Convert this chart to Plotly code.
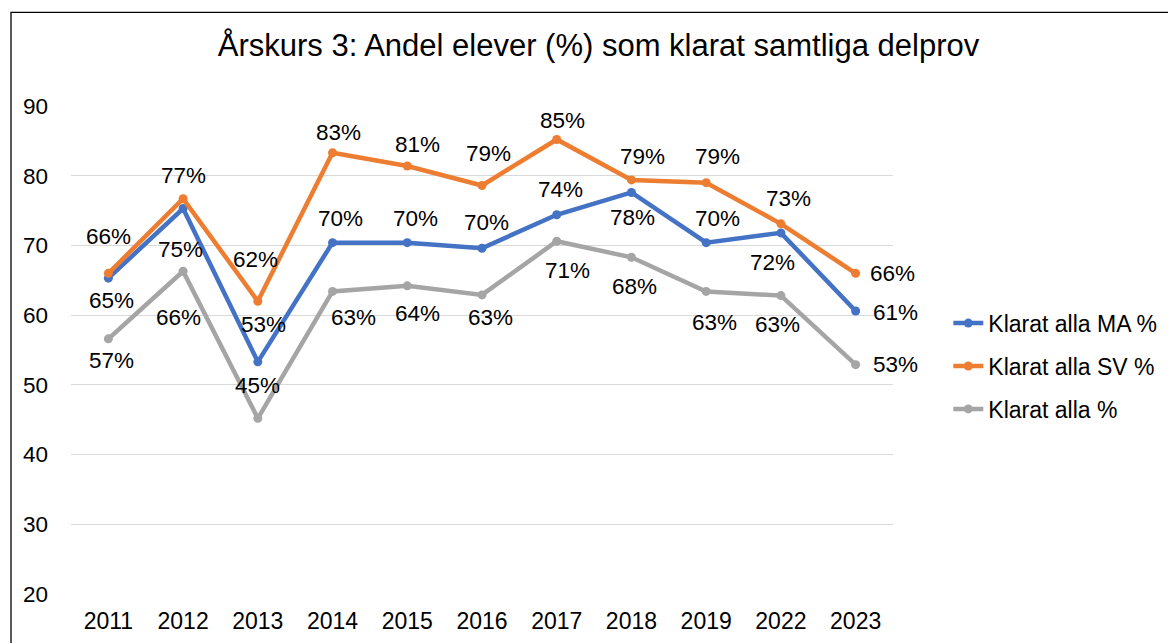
import plotly.graph_objects as go

YEARS = ["2011", "2012", "2013", "2014", "2015", "2016", "2017", "2018", "2019", "2022", "2023"]
MA = [65.3, 75.3, 53.3, 70.4, 70.4, 69.6, 74.4, 77.6, 70.4, 71.8, 60.6]
SV = [66.0, 76.7, 62.0, 83.3, 81.4, 78.6, 85.2, 79.4, 79.0, 73.1, 66.0]
ALLA = [56.6, 66.3, 45.2, 63.4, 64.2, 62.9, 70.6, 68.3, 63.4, 62.8, 52.9]

TITLE = "Årskurs 3: Andel elever (%) som klarat samtliga delprov"
NAMES = ["Klarat alla MA %", "Klarat alla SV %", "Klarat alla %"]
COLORS = ["#4472C4", "#ED7D31", "#A5A5A5"]

# label offsets (px) per point, picked by eye to sit like the Excel labels
MA_OFF = [(3, -22), (-3, -41), (6, 37), (8, 24), (8, 24), (4, 26), (4, 25),
          (1, -25), (11, 24), (-8, -30), (40, -2)]
SV_OFF = [(0, 37), (0, 23), (-2, 42), (6, 20), (10, 21), (6, 32), (6, 19),
          (11, 23), (11, 26), (8, 25), (37, 0)]
ALLA_OFF = [(3, -22), (-5, -46), (0, 33), (21, -26), (10, -28), (8, -23),
            (11, -29), (3, -29), (8, -31), (-3, -29), (40, 0)]

FONT = "Arial, 'Liberation Sans', sans-serif"

W, H = 1176, 643
# page body has an 8px margin, so work in screen px and shift back
OFF = 8
L = 70.7 - OFF
T = 105.7 - OFF
R = W - (892.7 - OFF)
B = H - (594 - OFF)
pw, ph = W - L - R, H - T - B


def px_x(sx):
    return (sx - OFF - L) / pw


def px_y(sy):
    return (H - B - (sy - OFF)) / ph


fig = go.Figure()
for name, vals, color in zip(NAMES, [MA, SV, ALLA], COLORS):
    fig.add_trace(go.Scatter(
        x=YEARS, y=vals, name=name, legendgroup=name,
        mode="lines+markers",
        line=dict(color=color, width=4.5),
        marker=dict(color=color, size=9),
    ))

# category axis: annotations take the category's serial number, not its name
for vals, offs in zip([MA, SV, ALLA], [MA_OFF, SV_OFF, ALLA_OFF]):
    for i, (v, (dx, dy)) in enumerate(zip(vals, offs)):
        fig.add_annotation(
            x=i, y=v, xref="x", yref="y", text=f"{round(v)}%", showarrow=False,
            xshift=dx, yshift=dy, xanchor="center", yanchor="middle",
            font=dict(size=22.5, color="#000000", family=FONT),
        )

fig.update_layout(
    width=W, height=H,
    margin=dict(l=L, r=R, t=T, b=B, pad=0),
    paper_bgcolor="white", plot_bgcolor="white",
    font=dict(family=FONT, size=22.5, color="#000000"),
    title=dict(text=TITLE, x=(598.5 - OFF) / W, xref="container", xanchor="center",
               y=1 - (45 - OFF) / H, yref="container", yanchor="middle",
               font=dict(size=31, color="#000000")),
    showlegend=True,
    legend=dict(x=px_x(948), y=px_y(366), xanchor="left", yanchor="middle",
                font=dict(size=23), tracegroupgap=10, bgcolor="rgba(0,0,0,0)"),
    shapes=[dict(type="rect", xref="paper", yref="paper",
                 x0=px_x(10.7), x1=px_x(1200), y0=px_y(680), y1=px_y(12),
                 line=dict(color="#000000", width=1.3), layer="above")],
)

fig.update_xaxes(type="category", range=[-0.5, len(YEARS) - 0.5],
                 showgrid=False, showline=False, zeroline=False,
                 ticks="", ticklabelstandoff=11, tickfont=dict(size=23))
fig.update_yaxes(range=[20, 90], dtick=10, tick0=20,
                 showgrid=True, gridcolor="#D9D9D9", gridwidth=1.3,
                 showline=False, zeroline=False, ticks="",
                 ticklabelstandoff=22, tickfont=dict(size=22.5))

fig.write_html("out.html")
